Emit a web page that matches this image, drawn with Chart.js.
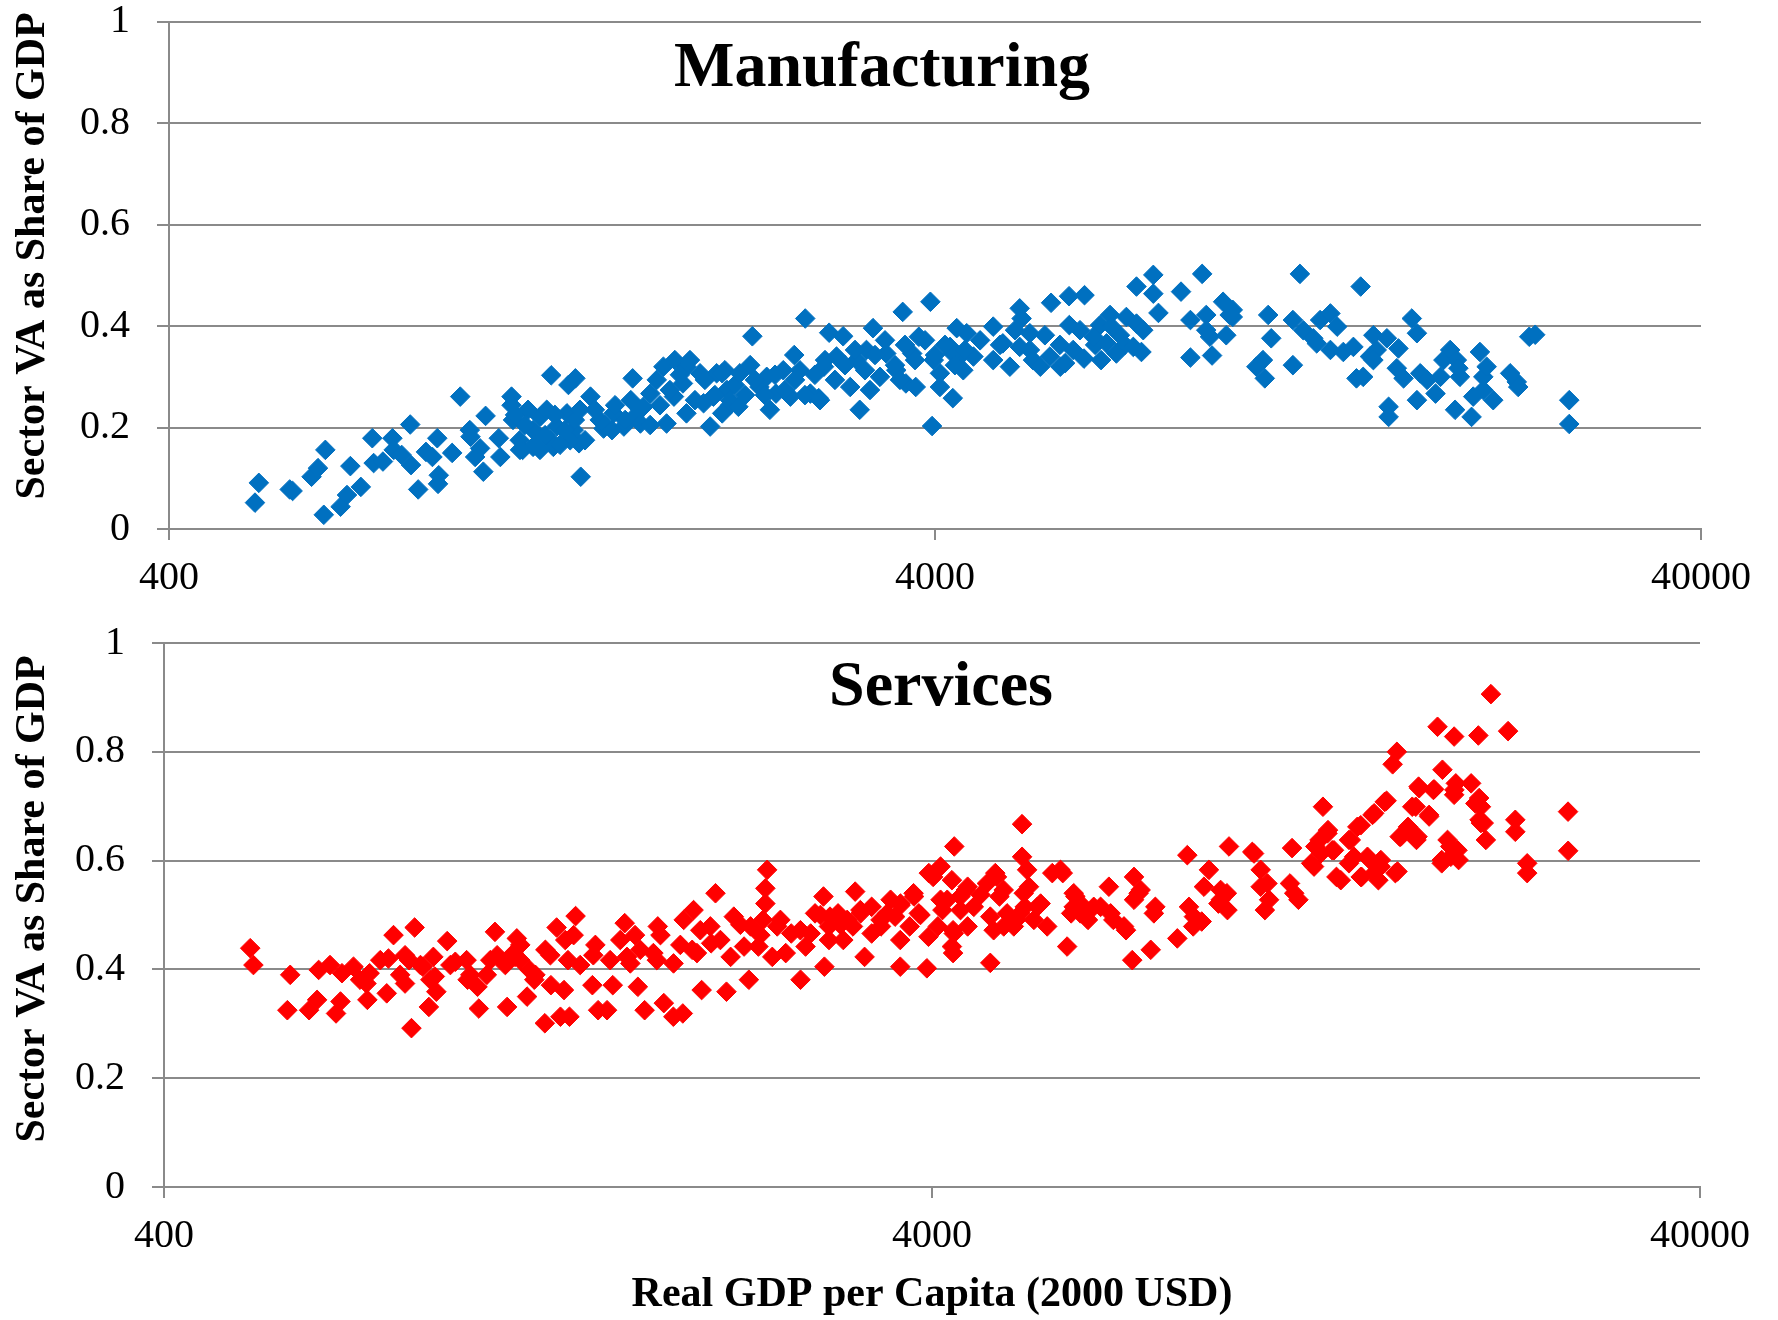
<!DOCTYPE html>
<html>
<head>
<meta charset="utf-8">
<title>Sector value added vs. GDP per capita</title>
<script src="https://cdn.jsdelivr.net/npm/chart.js@4.4.1/dist/chart.umd.min.js"></script>
<style>
  html, body { margin: 0; padding: 0; background: #ffffff; }
  body { width: 1778px; height: 1320px; position: relative; overflow: hidden; }
  canvas { position: absolute; left: 0; }
  #mfg { top: 0; }
  #srv { top: 600px; }
</style>
</head>
<body>
<canvas id="mfg" width="1778" height="600"></canvas>
<canvas id="srv" width="1778" height="720"></canvas>
<script>
// Tick values and labels shared by both panels
const xTickValues = [400, 4000, 40000];
const xTickLabels = ['400', '4000', '40000'];
const yTickValues = [0, 0.2, 0.4, 0.6, 0.8, 1];
const yTickLabels = ['0', '0.2', '0.4', '0.6', '0.8', '1'];

const panelTitles = ['Manufacturing', 'Services'];
const yAxisTitle = 'Sector VA as Share of GDP';
const xAxisTitle = 'Real GDP per Capita (2000 USD)';

// Manufacturing value added share: [real GDP per capita (2000 USD), share of GDP]
const manufacturingPoints = [
  [524,.091],[518,.052],[580,.075],[575,.078],[637,.028],[670,.044],[683,.067],[712,.083],[614,.103],[626,.120],
  [640,.156],[690,.124],[737,.179],[740,.130],[783,.179],[786,.156],[761,.133],[826,.206],[805,.146],[828,.126],
  [846,.078],[866,.152],[883,.142],[896,.179],[900,.106],[898,.089],[937,.150],[960,.261],[988,.195],[990,.182],
  [1004,.142],[1029,.113],[1019,.159],[1036,.223],[1083,.142],[1078,.179],[1120,.261],[1120,.244],[1125,.215],[1148,.175],
  [1195,.195],[1220,.221],[1245,.235],[1258,.175],[1283,.202],[1323,.228],[1350,.195],[1372,.169],[1336,.175],[1195,.162],
  [1158,.156],[1270,.162],[1262,.303],[1329,.284],[1357,.297],[1379,.103],[1420,.261],[1460,.215],[1522,.228],[1570,.202],
  [1620,.221],[1603,.254],[1665,.241],[1700,.267],[1612,.297],[1650,.208],[1477,.198],[1785,.208],[1768,.320],[1830,.333],
  [1895,.320],[1825,.261],[1875,.287],[1895,.228],[1974,.307],[2075,.307],[2055,.261],[2035,.202],[2140,.274],[1995,.248],
  [1733,.294],
  [1132,.225],[1166,.205],[1202,.166],[1239,.185],[1276,.225],[1296,.166],[1315,.195],[1355,.215],[1397,.175],[1376,.235],
  [1177,.235],[1220,.156],[1149,.156],[1439,.235],[1483,.205],[1529,.244],[1576,.215],[1648,.235],[1699,.205],[1750,.244],
  [1515,.195],[1803,.274],[1858,.304],[1944,.254],[2003,.294],[2064,.264],[2127,.313],[1915,.333],[2192,.284],[2160,.244],
  [2110,.307],[2160,.254],[2110,.228],[2215,.241],[2225,.307],[2295,.323],[2310,.380],[2360,.280],[2412,.300],[2435,.235],
  [2480,.267],[2535,.313],[2590,.261],[2620,.343],[2665,.313],[2708,.415],[2750,.267],[2820,.258],[2865,.320],[2910,.387],
  [3035,.380],[2975,.340],[3100,.280],[3190,.235],[3160,.333],[3255,.353],[3320,.396],[3390,.300],[3455,.346],[3560,.313],
  [3630,.428],[3665,.287],[3775,.280],[3810,.379],[3735,.346],[3945,.448],[3965,.203],[3985,.333],[4060,.280],[4220,.258],
  [4060,.307],[4185,.359],[4270,.396],[4400,.386],[4355,.313],[4490,.340],[4310,.340],[4220,.346],[4765,.399],[4765,.333],
  [2260,.264],[2328,.294],[2399,.264],[2473,.304],[2548,.274],[2626,.294],[2706,.264],[2788,.304],[2874,.333],[2961,.294],
  [3052,.323],[3145,.353],[3241,.313],[3340,.343],[3442,.372],[3547,.323],[3655,.363],[3767,.333],[3882,.372],[4000,.343],
  [4122,.363],[4247,.323],[4377,.353],[4581,.372],[3290,.274],[2831,.254],[3600,.294],
  [4864,.363],[5087,.392],[5321,.353],[5566,.382],[5823,.363],[6185,.392],[6473,.363],[6975,.382],[7080,.363],[6570,.402],
  [4905,.366],[5010,.320],[5160,.435],[5190,.415],[5160,.359],[5320,.386],[5370,.333],[5490,.320],[5650,.340],[5670,.446],
  [5830,.320],[5915,.327],[5985,.459],[6270,.461],[5990,.402],[6060,.353],[6260,.336],[6440,.379],[6590,.333],[6770,.422],
  [6800,.399],[6700,.366],[6900,.346],[7110,.418],[7330,.405],[7480,.392],[7440,.349],[7260,.359],[7330,.478],[7710,.501],
  [7710,.464],[7830,.426],[8380,.468],[8930,.503],[8620,.412],[8620,.338],[9040,.422],[9140,.379],[9200,.342],[9510,.448],
  [9700,.422],[9600,.382],
  [9790,.432],[9790,.418],[9040,.392],[10890,.422],[10990,.376],[10720,.333],[10510,.320],[10780,.297],[11730,.323],[11980,.503],
  [11730,.412],[12100,.392],[12470,.376],[12730,.412],[13130,.425],[13400,.399],[12600,.366],[13130,.353],[13650,.349],[14070,.359],
  [14380,.478],[14200,.297],[14490,.300],[14790,.340],[14940,.382],[15090,.353],[15560,.376],[14940,.333],[15640,.241],[15640,.221],
  [16110,.356],[16030,.317],[16360,.297],[16770,.415],[17030,.386],[17030,.254],[17200,.307],[17560,.294],[18010,.267],[18280,.300],
  [18440,.333],[18820,.353],[19200,.333],[19380,.300],[19290,.317],[19100,.235],[20070,.221],[20170,.261],[20580,.349],[20790,.300],
  [21000,.320],[20790,.274],[21420,.254],[22540,.307],[22990,.290],[23090,.280],[23870,.379],[24300,.383],[26920,.254],[26920,.207]
];

// Services value added share: [real GDP per capita (2000 USD), share of GDP]
const servicesPoints = [
  [518,.439],[523,.408],[636,.399],[682,.393],[706,.405],[741,.393],[796,.463],[848,.477],[784,.420],[824,.426],
  [863,.408],[897,.423],[935,.452],[958,.414],[991,.417],[1079,.469],[1086,.426],[1152,.457],[1141,.430],[1164,.417],
  [1255,.436],[1298,.477],[1374,.498],[1366,.463],[1343,.417],[1449,.426],[1592,.485],[1642,.463],[1758,.479],[1619,.411],
  [1735,.430],[1843,.411],[1900,.491],[1957,.509],[2090,.540],[2058,.479],[1977,.430],[2208,.497],[2187,.423],
  [584,.390],[658,.408],[720,.381],[765,.417],[812,.390],[889,.381],[944,.408],[1002,.390],[1064,.417],
  [579,.325],[618,.325],[633,.344],[670,.319],[679,.341],[736,.344],[734,.374],[780,.356],[824,.374],[834,.417],
  [840,.292],[869,.405],[885,.331],[901,.387],[905,.359],[994,.381],[1024,.368],[1028,.328],[1053,.390],[1119,.331],
  [1146,.423],[1188,.350],[1197,.399],[1214,.381],[1253,.301],[1313,.313],[1276,.371],[1327,.362],[1349,.313],[1445,.371],
  [1470,.325],[1510,.325],[1536,.371],[1603,.423],[1656,.368],[1690,.325],[1753,.417],[1790,.338],[1842,.313],[1895,.319],
  [1949,.436],[2005,.362],[2063,.448],[2160,.359],[2310,.381],[2377,.442],[2440,.583],[2427,.549],[2427,.521],[2410,.491],
  [1113,.408],[1164,.445],[1218,.390],[1274,.426],[1332,.454],[1393,.408],[1458,.445],[1524,.417],[1571,.454],[1668,.436],
  [1772,.463],[1881,.445],[1997,.472],[2121,.454],[2252,.482],[2391,.463],[2539,.491],[2696,.472],[2863,.500],[3040,.482],
  [3227,.509],[3428,.491],[3640,.518],[3864,.500],[4104,.528],[4357,.509],[4627,.537],
  [2478,.423],[2515,.479],[2623,.466],[2697,.381],[2738,.442],[2817,.503],[2889,.534],[2897,.405],[2937,.454],[3018,.503],
  [3177,.543],[3156,.479],[3268,.423],[3338,.515],[3433,.479],[3533,.528],[3637,.405],[3637,.454],[3741,.479],[3790,.534],
  [3939,.402],[3958,.460],[4014,.570],[4127,.509],[4246,.442],[4276,.626],[4246,.564],[2780,.466],[3066,.454],[3338,.466],
  [3581,.497],[3845,.503],[4070,.479],[4187,.528],[2937,.479],[2580,.430],[2277,.442],
  [2322,.479],[2946,.497],[3102,.491],[3229,.503],[3497,.503],[3639,.521],[3785,.540],[3962,.577],[4104,.589],[4451,.552],
  [4355,.534],[4534,.515],[4270,.466],[4451,.479],[4764,.497],[4812,.472],[4860,.570],[4959,.546],[5010,.503],[5112,.479],
  [5240,.667],[5240,.607],[5320,.583],[5267,.540],[5214,.503],[5429,.491],[5540,.521],[5650,.479],[5737,.577],[5880,.583],
  [5998,.442],[6118,.540],[6240,.503],[6118,.515],[6496,.515],[6798,.552],[6834,.503],[7113,.479],[7330,.570],[7477,.546],
  [7330,.528],[7780,.503],[7707,.436],[8346,.457],[8600,.610],[8642,.515],[8772,.497],[9176,.583],[9040,.552],[9506,.528],
  [9745,.626],[9700,.509],
  [4427,.546],[4261,.472],[4261,.430],[4764,.412],[4836,.577],[4716,.558],[4897,.534],[4960,.479],[5151,.491],[5350,.552],
  [5283,.515],[5487,.515],[5920,.577],[6149,.534],[6071,.503],[6385,.491],[6303,.515],[6631,.515],[6890,.491],[7156,.472],
  [7431,.540],[7291,.417],[7814,.515],[8753,.479],[8979,.488],[9683,.540],[9441,.521],[10450,.616],[10716,.583],[10716,.552],
  [10990,.528],[10852,.509],[11773,.623],[11700,.558],[11849,.540],[12000,.528],[12623,.626],[12466,.595],[12916,.699],[13112,.656],
  [12784,.638],[13279,.619],[13449,.570],[13965,.595],[14503,.570],[13965,.638],[14318,.662],[14871,.601],[15251,.564],[15059,.687],
  [15545,.708],[15352,.589],[16047,.577],[16255,.644],[16668,.662],[16881,.699],[17096,.638],[17204,.736],[17756,.681],[17982,.730],
  [18441,.595],[18917,.626],[19155,.730],[19399,.601],[20140,.742],[20397,.705],[20656,.675],[20915,.669],[21048,.638],[22992,.675],
  [22992,.653],[23826,.595],[23826,.577],[26930,.690],
  [21370,.906],[18210,.846],[19140,.828],[20580,.830],[22500,.838],[16120,.800],[15917,.777],[18480,.767],[17236,.733],[18024,.731],
  [19236,.742],[19140,.721],[20630,.715],[17060,.699],[15630,.710],[17756,.684],[20740,.699],[20740,.669],[14985,.684],[14465,.665],
  [16720,.656],[17150,.644],[16310,.644],[26940,.618],[18765,.638],[19335,.619],[18440,.601],[18950,.607],[13090,.650],[13350,.619],
  [12830,.613],[12575,.589],[14040,.638],[14180,.607],[14760,.607],[15364,.601],[15056,.577],[14465,.570],[16150,.580],[13625,.564],
  [10505,.613],[10935,.558],[9504,.546]
];

const SERIF = '"Liberation Serif", "Times New Roman", serif';
const GRID = '#8a8a8a';

// Draws the panel heading inside the plot and the rotated y-axis caption
const panelText = {
  id: 'panelText',
  afterDraw(chart, args, o) {
    const ctx = chart.ctx;
    ctx.save();
    ctx.fillStyle = '#000000';
    ctx.textAlign = 'center';
    ctx.textBaseline = 'alphabetic';
    ctx.font = 'bold 64px ' + SERIF;
    ctx.fillText(o.heading, o.headingX, o.headingY);
    ctx.translate(o.captionX, o.captionY);
    ctx.rotate(-Math.PI / 2);
    ctx.font = 'bold 42px ' + SERIF;
    ctx.textBaseline = 'middle';
    ctx.fillText(o.caption, 0, 0);
    ctx.restore();
  }
};

function makePanel(canvasId, points, color, heading, layout) {
  const data = points.map(p => ({ x: p[0], y: p[1] }));
  return new Chart(document.getElementById(canvasId), {
    type: 'scatter',
    data: {
      datasets: [{
        data: data,
        pointStyle: 'rectRot',
        pointRadius: 9.8,
        pointHoverRadius: 9.8,
        pointBorderWidth: 1,
        backgroundColor: color,
        borderColor: color,
        showLine: false
      }]
    },
    options: {
      responsive: false,
      animation: false,
      devicePixelRatio: 1,
      events: [],
      layout: { padding: { top: layout.top, right: layout.right, left: 0, bottom: 0 } },
      plugins: {
        legend: { display: false },
        tooltip: { enabled: false },
        panelText: {
          heading: heading,
          headingX: layout.headingX,
          headingY: layout.headingY,
          caption: yAxisTitle,
          captionX: 33,
          captionY: layout.captionY
        }
      },
      scales: {
        x: {
          type: 'logarithmic',
          position: 'bottom',
          min: xTickValues[0],
          max: xTickValues[xTickValues.length - 1],
          afterBuildTicks: s => { s.ticks = xTickValues.map(v => ({ value: v })); },
          afterFit: s => { s.height = layout.xHeight; },
          ticks: {
            autoSkip: false,
            maxRotation: 0,
            padding: 18,
            color: '#000000',
            font: { family: SERIF, size: 40, lineHeight: 1 },
            callback: (v) => xTickLabels[xTickValues.indexOf(v)]
          },
          grid: { drawOnChartArea: false, drawTicks: true, tickLength: 11, color: GRID, lineWidth: 2 },
          border: { display: true, color: GRID, width: 2 },
          title: layout.xTitle ? {
            display: true,
            text: xAxisTitle,
            color: '#000000',
            font: { family: SERIF, size: 42, weight: 'bold', lineHeight: 1.2 },
            padding: { top: 0, bottom: 0 }
          } : { display: false }
        },
        y: {
          type: 'linear',
          min: 0,
          max: 1,
          afterBuildTicks: s => { s.ticks = yTickValues.map(v => ({ value: v })); },
          afterFit: s => { s.width = layout.yWidth; s.paddingTop = 0; s.paddingBottom = 0; },
          ticks: {
            padding: 27,
            color: '#000000',
            font: { family: SERIF, size: 40, lineHeight: 1 },
            callback: (v) => yTickLabels[yTickValues.indexOf(v)]
          },
          grid: { color: GRID, lineWidth: 2, tickLength: 12 },
          border: { display: true, color: GRID, width: 2 }
        }
      }
    },
    plugins: [panelText]
  });
}

makePanel('mfg', manufacturingPoints, '#0070C0', panelTitles[0], {
  top: 21.8, right: 77, xHeight: 71, yWidth: 169,
  headingX: 882, headingY: 86, captionY: 256, xTitle: false
});

makePanel('srv', servicesPoints, '#FF0000', panelTitles[1], {
  top: 43, right: 78, xHeight: 133, yWidth: 164,
  headingX: 941, headingY: 105, captionY: 299, xTitle: true
});
</script>
</body>
</html>
